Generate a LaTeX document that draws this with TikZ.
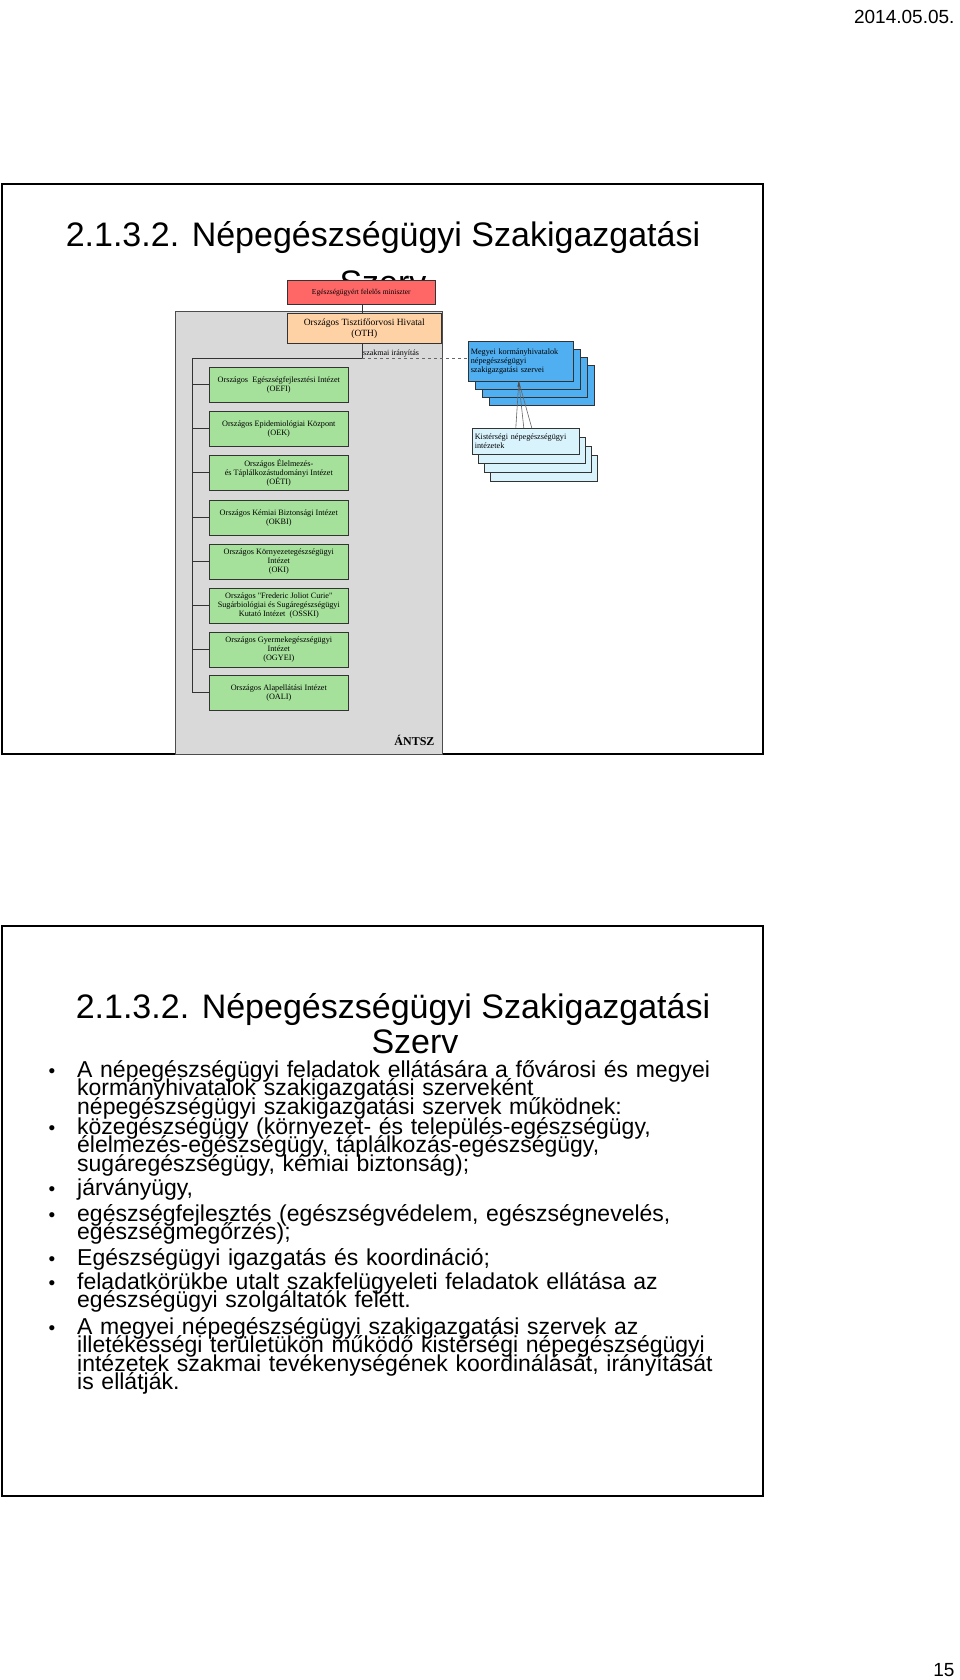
\documentclass[tikz,border=0pt]{standalone}
\usepackage{fontspec}
\setmainfont{Liberation Sans}
\newfontfamily\chartfont{Liberation Serif}
\usetikzlibrary{positioning,calc}
\definecolor{countyblue}{RGB}{80,175,240}
\definecolor{instgreen}{RGB}{165,225,155}
\newcommand{\tightskip}{\lineskiplimit=-20pt\lineskip=0pt\relax}

\begin{document}
\begin{tikzpicture}[x=1pt,y=-1pt]
    \tikzstyle{edge}  = [draw=black!80,line width=0.8pt]
    \tikzstyle{dedge} = [draw=black!60,dashed,line width=0.5pt]
    \tikzstyle{box}=[
      draw=black!80,
      line width=0.6pt,
      align=center,
      inner sep=1pt,
      font=\chartfont\fontsize{8.2}{9.2}\selectfont,
    ]
    \tikzstyle{inst}=[
      box,
      fill=instgreen,
      minimum width=139pt,
      minimum height=35pt,
      anchor=north west,
    ]
    \tikzstyle{county}=[
      box,
      fill=countyblue,
      minimum width=105pt,
      minimum height=40pt,
      anchor=north west,
      align=left,
      text width=100pt,
    ]
    \tikzstyle{local}=[
      county,
      fill=cyan!15,
      minimum width=107pt,
      minimum height=26pt,
      text width=102pt,
    ]
    \tikzstyle{slide}=[draw=black,line width=1.2pt]
    \tikzstyle{title}=[anchor=base,font=\fontsize{34}{35}\selectfont]
    \tikzstyle{item}=[anchor=base west,inner sep=0pt,align=left,text width=700pt,
      font=\fontsize{23}{18.5}\selectfont\tightskip]
    \tikzstyle{bullet}=[anchor=base,inner sep=0pt,font=\fontsize{19}{18}\selectfont]

    \useasboundingbox[fill=white] (0,0) rectangle (960,1680);

    % page header and footer
    \node[anchor=base east,font=\fontsize{19}{20}\selectfont] (date) at (958,24) {2014.05.05.};
    \node[anchor=base east,font=\fontsize{19}{20}\selectfont] (page) at (958,1676) {15};

    % upper slide
    {
      \draw[slide] (2,184) rectangle (763,754);
      \node[title] (title1) at (383,247) {2.1.3.2. Népegészségügyi Szakigazgatási};
      \node[title] (szerv1) at (383,294) {Szerv};

      \draw[fill=black!15,draw=black!70,line width=0.8pt] (175,311) rectangle (442,754);
      \node[box,fill=red!55!pink!90,minimum width=148pt,minimum height=24pt,anchor=north west,font=\chartfont\fontsize{7.5}{8}\selectfont] (min) at (287,280) {Egészségügyért felelős miniszter};
      \node[box,fill=orange!35,minimum width=154pt,minimum height=30pt,anchor=north west,font=\chartfont\fontsize{9.5}{11}\selectfont] (oth) at (287,313) {Országos Tisztifőorvosi Hivatal\\(OTH)};

      \node[inst] (oefi) at (209,367) {Országos \ Egészségfejlesztési Intézet\\(OEFI)};
      \node[inst] (oek) at (209,411) {Országos Epidemiológiai Központ\\(OEK)};
      \node[inst] (oeti) at (209,455) {Országos Élelmezés-\\és Táplálkozástudományi Intézet\\(OÉTI)};
      \node[inst] (okbi) at (209,500) {Országos Kémiai Biztonsági Intézet\\(OKBI)};
      \node[inst] (oki) at (209,544) {Országos Környezetegészségügyi\\Intézet\\(OKI)};
      \node[inst] (osski) at (209,588) {Országos "Frederic Joliot Curie"\\Sugárbiológiai és Sugáregészségügyi\\Kutató Intézet \ (OSSKI)};
      \node[inst] (ogyei) at (209,632) {Országos Gyermekegészségügyi\\Intézet\\(OGYEI)};
      \node[inst] (oali) at (209,675) {Országos Alapellátási Intézet\\(OALI)};
      \node[anchor=base east,font=\chartfont\bfseries\fontsize{12}{13}\selectfont] (antsz) at (438,745) {ÁNTSZ};

      \coordinate (fork) at (362,358);
      \coordinate (trunkTop) at (192,358);
      \coordinate (trunkBot) at (192,692);
      \draw[edge] (min.south -| fork) -- (oth.north -| fork);
      \draw[edge] (oth.south -| fork) -- (fork) -- (trunkTop) -- (trunkBot);
      \draw[edge] (oefi.west) -- (oefi.west -| trunkTop);
      \draw[edge] (oek.west) -- (oek.west -| trunkTop);
      \draw[edge] (oeti.west) -- (oeti.west -| trunkTop);
      \draw[edge] (okbi.west) -- (okbi.west -| trunkTop);
      \draw[edge] (oki.west) -- (oki.west -| trunkTop);
      \draw[edge] (osski.west) -- (osski.west -| trunkTop);
      \draw[edge] (ogyei.west) -- (ogyei.west -| trunkTop);
      \draw[edge] (oali.west) -- (oali.west -| trunkTop);
      \node[anchor=south west,inner sep=1pt,font=\chartfont\fontsize{8}{8.5}\selectfont] (lead) at (fork) {szakmai irányítás};

      % county offices
      \node[county] (county4) at (489,365) {};
      \node[county] (county3) at (482,357) {};
      \node[county] (county2) at (475,349) {};
      \node[county] (county1) at (468,341) {Megyei kormányhivatalok\\népegészségügyi\\szakigazgatási szervei};
      \draw[dedge] (fork) -- (fork -| county1.west);

      % local institutes
      \node[local] (local4) at (490,455) {};
      \node[local] (local3) at (484,446) {};
      \node[local] (local2) at (478,437) {};
      \node[local] (local1) at (472,428) {Kistérségi népegészségügyi\\intézetek};
      \coordinate (countyIn) at ([xshift=-2pt]county1.south);
      \draw[draw=black!60,line width=0.6pt] ([xshift=-10pt]local1.north) -- (countyIn);
      \draw[draw=black!60,line width=0.6pt] ([xshift=-2pt]local1.north) -- (countyIn);
      \draw[draw=black!60,line width=0.6pt] ([xshift=6pt]local1.north) -- (countyIn);
      \fill[black!70] (countyIn) -- ++(-1.5,5) -- ++(3,0) -- cycle;
    }

    % lower slide
    {
      \draw[slide] (2,926) rectangle (763,1496);
      \node[title] (title2) at (393,1018) {2.1.3.2. Népegészségügyi Szakigazgatási};
      \node[title] (szerv2) at (415,1053) {Szerv};

      \node[bullet] (b1) at (52,1077) {•};
      \node[item] (t1) at (77,1077) {A népegészségügyi feladatok ellátására a fővárosi és megyei\\kormányhivatalok szakigazgatási szerveként\\népegészségügyi szakigazgatási szervek működnek:};
      \node[bullet] (b2) at (52,1134) {•};
      \node[item] (t2) at (77,1134) {közegészségügy (környezet- és település-egészségügy,\\élelmezés-egészségügy, táplálkozás-egészségügy,\\sugáregészségügy, kémiai biztonság);};
      \node[bullet] (b3) at (52,1195) {•};
      \node[item] (t3) at (77,1195) {járványügy,};
      \node[bullet] (b4) at (52,1221) {•};
      \node[item] (t4) at (77,1221) {egészségfejlesztés (egészségvédelem, egészségnevelés,\\egészségmegőrzés);};
      \node[bullet] (b5) at (52,1265) {•};
      \node[item] (t5) at (77,1265) {Egészségügyi igazgatás és koordináció;};
      \node[bullet] (b6) at (52,1289) {•};
      \node[item] (t6) at (77,1289) {feladatkörükbe utalt szakfelügyeleti feladatok ellátása az\\egészségügyi szolgáltatók felett.};
      \node[bullet] (b7) at (52,1334) {•};
      \node[item] (t7) at (77,1334) {A megyei népegészségügyi szakigazgatási szervek az\\illetékességi területükön működő kistérségi népegészségügyi\\intézetek szakmai tevékenységének koordinálását, irányítását\\is ellátják.};
    }
\end{tikzpicture}
\end{document}
